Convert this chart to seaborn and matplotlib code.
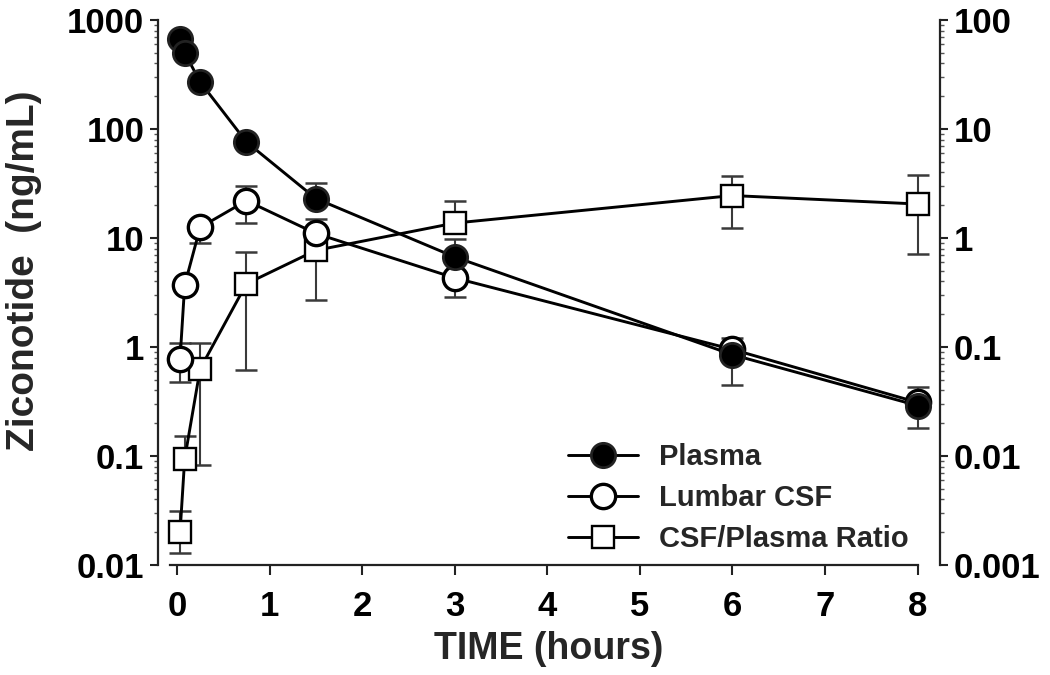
import numpy as np
import pandas as pd
import matplotlib
matplotlib.use("Agg")
import matplotlib.pyplot as plt
from matplotlib.ticker import FixedLocator, LogLocator, NullFormatter
import seaborn as sns

# sampling times (hours)
time_h = [0.033, 0.083, 0.25, 0.75, 1.5, 3, 6, 8]

# plasma (ng/mL), left axis
plasma = [670, 500, 270, 76, 23, 6.7, 0.85, 0.29]
plasma_hi = [np.nan, np.nan, np.nan, np.nan, 32, 9.8, 1.2, 0.43]
plasma_lo = [np.nan, np.nan, np.nan, np.nan, np.nan, np.nan, 0.45, 0.18]

# lumbar CSF (ng/mL), left axis
csf = [0.78, 3.7, 12.5, 22, 11, 4.3, 0.95, 0.31]
csf_hi = [1.09, np.nan, np.nan, 30, 15, np.nan, np.nan, np.nan]
csf_lo = [0.48, np.nan, 9.0, 13.7, np.nan, 2.9, np.nan, np.nan]

# CSF/plasma ratio, right axis
ratio = [0.002, 0.0094, 0.063, 0.38, 0.77, 1.37, 2.45, 2.05]
ratio_hi = [0.0031, 0.0152, 0.109, 0.74, np.nan, 2.18, 3.7, 3.8]
ratio_lo = [0.0013, np.nan, 0.0083, 0.062, 0.27, np.nan, 1.24, 0.71]

left_ticks = [0.01, 0.1, 1, 10, 100, 1000]
left_labels = ["0.01", "0.1", "1", "10", "100", "1000"]
right_ticks = [0.001, 0.01, 0.1, 1, 10, 100]
right_labels = ["0.001", "0.01", "0.1", "1", "10", "100"]
x_ticks = [0, 1, 2, 3, 4, 5, 6, 7, 8]

df = pd.DataFrame({"time": time_h, "plasma": plasma, "csf": csf, "ratio": ratio})

sns.set_style("ticks")
plt.rcParams["font.family"] = ["Liberation Sans", "DejaVu Sans"]
plt.rcParams["font.weight"] = "bold"


def add_errors(ax, x, mean, hi, lo):
    mean = np.array(mean, dtype=float)
    up = np.nan_to_num(np.array(hi, dtype=float) - mean, nan=0.0)
    down = np.nan_to_num(mean - np.array(lo, dtype=float), nan=0.0)
    ax.errorbar(x, mean, yerr=[down, up], fmt="none", ecolor="#3a3a3a",
                elinewidth=1.5, capsize=8, capthick=1.8, zorder=1)


fig, ax = plt.subplots(figsize=(10.5, 6.75), dpi=100)
fig.subplots_adjust(left=0.1505, right=0.895, top=0.9704, bottom=0.163)
ax2 = ax.twinx()

# ratio on the right axis
add_errors(ax2, time_h, ratio, ratio_hi, ratio_lo)
sns.lineplot(data=df, x="time", y="ratio", ax=ax2, color="black", lw=2.1,
             marker="s", markersize=16, markerfacecolor="white",
             markeredgecolor="black", markeredgewidth=1.7,
             label="CSF/Plasma Ratio", legend=False, zorder=3)

add_errors(ax, time_h, plasma, plasma_hi, plasma_lo)
add_errors(ax, time_h, csf, csf_hi, csf_lo)
sns.lineplot(data=df, x="time", y="csf", ax=ax, color="black", lw=2.1,
             marker="o", markersize=17.5, markerfacecolor="white",
             markeredgecolor="black", markeredgewidth=2.4,
             label="Lumbar CSF", legend=False, zorder=3)
sns.lineplot(data=df, x="time", y="plasma", ax=ax, color="black", lw=2.1,
             marker="o", markersize=17.5, markerfacecolor="black",
             markeredgecolor="#222222", markeredgewidth=2,
             label="Plasma", legend=False, zorder=4)

ax.set_zorder(ax2.get_zorder() + 1)
ax.patch.set_visible(False)

for a, lo, hi in [(ax, 0.01, 1000), (ax2, 0.001, 100)]:
    a.set_yscale("log")
    a.set_ylim(lo, hi)
    a.yaxis.set_minor_locator(LogLocator(base=10, subs=np.arange(2, 10)))
    a.yaxis.set_minor_formatter(NullFormatter())

ax.yaxis.set_major_locator(FixedLocator(left_ticks))
ax.set_yticklabels(left_labels)
ax2.yaxis.set_major_locator(FixedLocator(right_ticks))
ax2.set_yticklabels(right_labels)

ax.set_xlim(-0.205, 8.24)
ax.set_xticks(x_ticks)
ax.set_xticklabels([str(v) for v in x_ticks])

ax.set_xlabel("TIME (hours)", fontsize=27, fontweight="bold", labelpad=6)
ax.set_ylabel("Ziconotide  (ng/mL)", fontsize=28, fontweight="bold")
ax.yaxis.set_label_coords(-0.148, 0.54)
ax2.set_ylabel("")
ax2.set_xlabel("")

for a in (ax, ax2):
    a.spines["top"].set_visible(False)
    for s in a.spines.values():
        s.set_linewidth(1.6)
        s.set_color("#222222")
ax.spines["right"].set_visible(False)
ax2.spines["left"].set_visible(False)
ax2.spines["bottom"].set_visible(False)
ax.spines["bottom"].set_bounds(-0.08, 8)

ax.tick_params(axis="x", which="major", labelsize=25, length=7, width=1.5,
               pad=11, colors="#222222", labelcolor="black")
ax.tick_params(axis="y", which="major", labelsize=25, length=6, width=1.5,
               pad=4, colors="#222222", labelcolor="black")
ax.tick_params(axis="y", which="minor", length=3, width=1, colors="#555555")
ax2.tick_params(axis="y", which="major", labelsize=25, length=6, width=1.5,
                pad=4, colors="#222222", labelcolor="black")
ax2.tick_params(axis="y", which="minor", length=3, width=1, colors="#555555")

h1, l1 = ax.get_legend_handles_labels()
h2, l2 = ax2.get_legend_handles_labels()
handles = [h1[1], h1[0], h2[0]]
labels = [l1[1], l1[0], l2[0]]
leg = ax.legend(handles, labels, loc="lower left", bbox_to_anchor=(0.51, 0.0),
                frameon=False, fontsize=21, handlelength=2.4, handletextpad=0.7,
                labelspacing=0.45, borderaxespad=0)
for t in leg.get_texts():
    t.set_fontweight("bold")

fig.savefig("out.png", dpi=100)
